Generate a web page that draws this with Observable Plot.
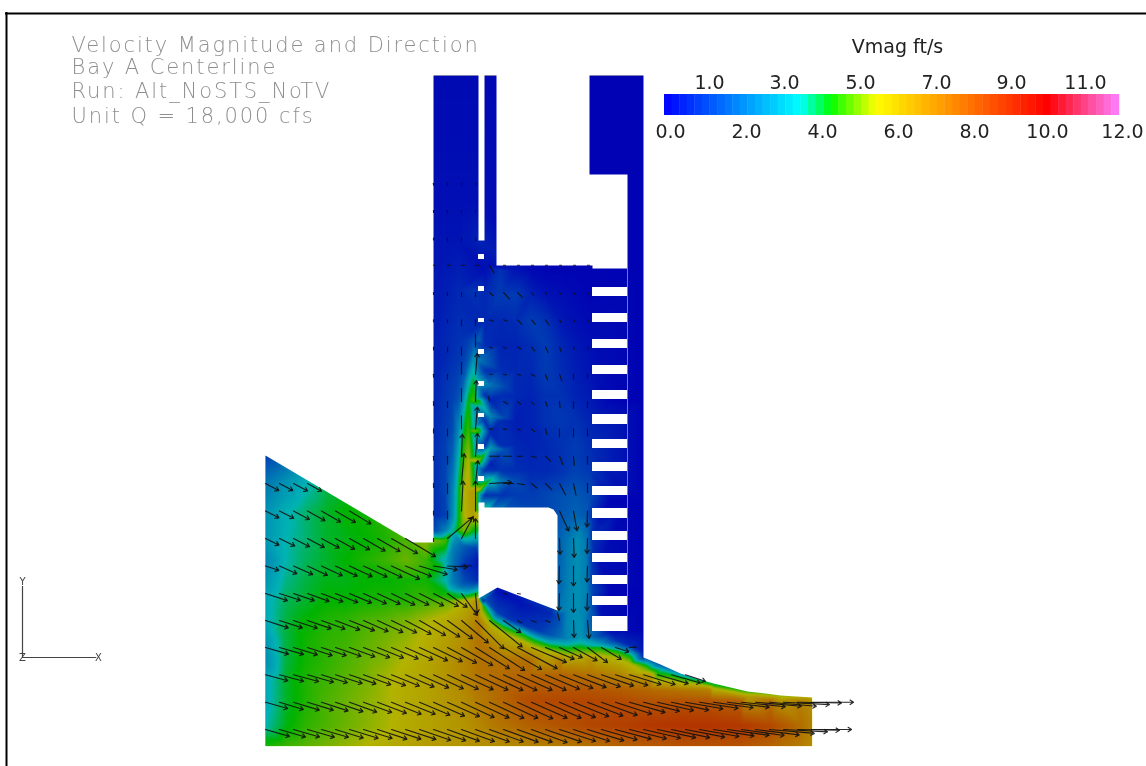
<!DOCTYPE html>
<html><head><meta charset="utf-8">
<style>
html,body{margin:0;padding:0;background:#fff;overflow:hidden}
.run-title text{letter-spacing:1.9px;font-weight:200}
#chart svg{filter:blur(0.45px)}
</style>
<script src="https://cdn.jsdelivr.net/npm/d3@7"></script>
<script src="https://cdn.jsdelivr.net/npm/@observablehq/plot@0.6"></script>
</head><body><div id="chart"></div>
<script>
// ---------- text ----------
const titleLines = ["Velocity Magnitude and Direction","Bay A Centerline","Run: Alt_NoSTS_NoTV","Unit Q = 18,000 cfs"];
const titleY = [51,73,97,122];
const legendTitle = "Vmag ft/s";
const ticksUpper = ["1.0","3.0","5.0","7.0","9.0","11.0"];
const ticksUpperX = [709,784,860,936,1011,1085];
const ticksLower = ["0.0","2.0","4.0","6.0","8.0","10.0","12.0"];
const ticksLowerX = [670,746,822,898,974,1047,1122];

// ---------- colour ramp (Vmag, ft/s) ----------
const rampStops = [0,3.6,4.4,5.6,10.1,12];
const rampColors = ["#0000ff","#00ffff","#00ff00","#ffff00","#ff0000","#ff80ff"];

// ---------- geometry, model-view units ----------
const domainOutline = [[433,75],[478,75],[478,240],[484,240],[484,75],[496,75],[496,265],[592,265],[592,268],[627,268],[627,174],[589,174],[589,75],[643,75],[643,657],[660,664],[680,673],[696,678],[713,683],[730,687],[747,691],[765,693],[780,695],[796,696],[812,697],[812,746],[265,746],[265,455],[412,542],[433,542],[433,75]];
const hullHole = [[478,502],[484,502],[484,507],[548,507],[553,509],[557,515],[557,610],[497,587],[478,598]];
const barTop = [287,313,339,365,390,414,439,462,486,508,531,553,575,596,616];
const barBottom = [296,322,348,374,399,424,448,471,495,518,540,562,584,605,631];
const slotTop = [254,286,318,349,381,413,444,476];
const slotBottom = [259,291,322,354,386,417,449,481];

// ---------- Vmag samples ----------
const resX = [265,285,305,325,345,365,385,405,425,445,465,478];
const resY = [455,480,510,540,560,580,600,620,640,660,680,700,725,746];
const resV = [
[1.3,1.9,2.6,3.3,3.9,4.3,4.6,4.9],
[2.3,2.9,3.5,4,4.3,4.5,4.7,4.9],
[2.9,3.5,3.9,4.2,4.4,4.5,4.7,4.9],
[3,3.6,3.9,4.2,4.3,4.4,4.6,4.9,5.4,4.9,3.4,3],
[2.7,3.6,4,4.2,4.4,4.6,4.8,5.1,4.8,3.4,1.2,.5],
[3,3.8,4.1,4.3,4.3,4.4,4.4,4.5,4.5,3.6,1.4,.9],
[3.4,4,4.2,4.4,4.4,4.5,4.6,4.6,4.8,5,5.7,6.5],
[3.4,4.1,4.4,4.6,4.7,4.9,5,5.2,5.5,5.8,6.3,7],
[3,4.1,4.5,4.7,4.8,5,5.2,5.4,5.7,6.1,6.6,7.2],
[2.8,4.1,4.5,4.7,4.9,5.1,5.3,5.6,5.9,6.3,6.8,7.2],
[3.4,4.2,4.6,4.8,5,5.2,5.5,5.8,6,6.4,6.8,7.2],
[3.4,4.2,4.6,4.9,5.1,5.3,5.5,5.8,6,6.3,6.6,7],
[3.6,4.3,4.7,4.9,5.1,5.3,5.5,5.8,6,6.2,6.4,6.7],
[4.6,4.8,5,5.2,5.4,5.6,5.8,6,6.2,6.3,6.4,6.5]];

const exitX = [500,530,560,590,620,650,680,710,740,770,800,812];
const exitRows = [
[660,[7.2,7.3,7,6.5]],
[675,[7.4,7.6,7.6,7.3,6.8,6.2]],
[690,[7.5,7.9,8,8,7.8,7.5,7.2,6.9]],
[700,[7.5,8.2,8.3,8.3,8.2,8,8,7.9,7.6,7.2,6.8,6.4]],
[725,[7.2,7.7,8,8.3,8.5,8.7,8.8,8.8,8.7,8.3,7.4,6.8]],
[746,[6.6,6.8,7,7.3,7.6,7.8,8,8,8,7.6,7,6.6]]];

const columnX = [433,445,452,458,463,468,473,478];
const columnRows = [
[75,[.2,.2,.2,.2,.2,.2,.2,.2]],
[200,[.3,.3,.3,.3,.3,.3,.3,.3]],
[240,[.4,.4,.4,.4,.5,.5,.6,.7]],
[290,[.5,.6,.7,.8,.9,1,1,1.1]],
[340,[.6,.8,.9,1,1.1,1.3,1.6,2]],
[360,[.6,.8,1,1.1,1.3,1.8,3,2.4]],
[380,[.7,1,1.2,1.4,1.9,3.4,4.2,3.5]],
[400,[.7,1.1,1.3,1.7,3,4.4,4.9,4.5]],
[430,[.8,1.2,1.5,2.8,4.2,4.8,5.2,4.8]],
[460,[.9,1.3,2,3.6,5,5.6,5.8,5.4]],
[490,[.9,1.4,2.6,4.2,5.5,6,6.3,5.8]],
[515,[.9,1.3,2.8,4.3,5.5,5.9,6.2,5.8]],
[530,[1.4,2.6,3.7,4.6,5.2,5,4.4,4.2]]];

const chamberX = [484,500,515,530,545,560,575,590];
const chamberRows = [
[270,[.3,1,.4,.2,.1,.1,.1,.1]],
[295,[.8,1.2,1.2,.7,.4,.3,.2,.1]],
[320,[.8,.8,.9,1.2,1,.5,.3,.2]],
[345,[.9,.7,.7,.9,1.2,.8,.5,.3]],
[370,[1,.9,.8,.8,1.2,.9,.6,.4]],
[395,[1,.9,.8,.7,1,1,.7,.5]],
[420,[1,.9,.6,.7,1,1.1,1,.7]],
[445,[1,.9,.8,.7,.8,1,1.2,.9]],
[470,[1,1,.9,.8,.8,1,1.3,1.1]],
[495,[1,1,1.2,1.2,1.4,1.6,1.8,1.5]]];

const spotSamples = [
[490,385,2.3],[505,386,1.4],[490,416,2.7],[505,418,1.4],[490,447,3.1],[505,449,1.6],[490,479,4],[500,480,2.5],[515,480,1.5],
[490,400,.7],[490,432,.7],[490,463,.7],
[440,565,4.3],[447,565,3.3],[455,565,2],[460,565,1.2],[465,565,.9],[478,565,.5],
[452,548,2.6],[462,545,2],[475,548,1.2],[452,582,2.6],[462,585,2],[475,583,1.5],
[445,592,4.4],[465,594,3.8],[478,592,4.2],
[490,70,.15],[490,265,.35],
[482,600,.8],[497,590,.3],[520,603,.4],[550,613,.8],[557,617,1.4]];

const laneSamples = [
[557,515,1.6],[565,515,1.8],[575,515,2],[585,515,1.8],[592,515,1],
[559,540,2],[567,540,2.4],[577,540,2.9],[586,540,2.4],[592,540,1],
[559,565,2],[567,565,2.5],[577,565,2.9],[586,565,2.5],[592,565,1.1],
[559,590,2.1],[567,590,2.6],[577,590,2.9],[586,590,2.6],[592,590,1.4],
[559,610,2.4],[567,610,2.7],[577,610,2.9],[586,610,2.5],[592,610,1.6],
[600,515,.3],[600,565,.3],[600,610,.3]];

const wallSamples = [
[265,75,.2],[812,75,.1],[812,455,.1],[700,600,.1],[589,75,.05],[643,75,.05],[589,174,.05],[615,174,.05],[627,174,.05],[643,174,.05],
[610,268,.08],[627,268,.05],[643,268,.05],[610,400,.1],[627,400,.05],[643,400,.05],[610,500,.1],[627,500,.05],[643,500,.05],
[610,590,.1],[627,590,.05],[643,590,.05],[627,631,.2],[643,631,.1],[610,631,.3]];

const edgeSamples = [
[486,600,1.5],[497,612,1.2],[510,619,1],[525,625,1],[540,631,1.2],[553,635,1.8],[565,638,2.6],[580,637,3],[600,636,1.5],[617,640,.9],[630,645,.8],[642,652,.6],
[484,603,3],[494,617,3],[507,624,3.2],[522,630,3.2],[537,637,3.2],[551,642,3.4],[565,644,3.6],[580,643,3.8],[600,643,3],[617,647,2.8],[630,651,2.8],[644,658,2.2],
[483,606,4.6],[492,620,4.6],[505,628,4.6],[520,634,4.6],[535,641,4.5],[550,646,4.5],[565,649,4.6],[580,648,4.6],[600,648,4.5],[617,651,4.5],[630,656,4.4],[645,664,4.2],
[490,627,5.9],[503,634,5.8],[518,640,5.8],[533,647,5.8],[548,652,5.7],[565,656,5.7],[580,655,5.7],[600,655,5.6],[617,658,5.6],[630,663,5.5],[648,670,5.2],
[643,657,1],[660,663,1.5],[680,672,2.6],[713,682,3.8],[747,690,4.5],[780,694,5],[812,696,5.6],
[660,669,3.6],[680,678,4.6],[713,688,5.6],[747,696,6.2],[780,700,6.3]];

// ---------- arrows: grid columns and, per row, length and turn below horizontal ----------
const arrowColX0 = [265,279,293,307,321,335,349,363,377,391,405,419,433,447,461,475,489,503,517,531,545,559,573,587,601,615,629,643,657,671,685,699,713,727,741,755,769,783,797,811];
const lowerRows = [
[483,[15,15,16,16],[28,28,28,29]],
[510.5,[15,16,18,20,22,23,25],[27,27,28,29,30,30,31]],
[538,[15,17,18,19,20,22,23,25,26,30,35],[26,26,27,28,28,29,29,30,30,30,31]],
[565.5,[14,19,21,22,23,24,25,26,27,31,28,29,24,20,10],[18,24,24,25,25,25,25,25,25,25,22,17,9,3,0]],
[593,[23,22,22,23,23,24,24,25,25,26,26,27,28,24,27,20],[18,18,19,20,21,22,23,24,25,26,26,27,27,35,54,85]],
[620,[24,24,25,25,25,26,27,27,28,28,29,30,31,31,35,40,42,21,5,5,5,8,17,18],[18,18,18,19,20,21,22,24,25,26,28,30,32,36,40,45,39,35,30,20,20,-105,88,85]],
[647,[24,25,25,26,26,27,27,28,28,29,30,31,32,33,36,40,42,44,45,38,31,25,27,25,23,14,7],[16,16,17,18,18,19,20,21,22,23,24,25,26,28,30,32,33,30,28,23,22,24,29,37,31,18,-3]],
[674.3,[23,25,26,27,27,28,28,29,30,30,31,32,33,34,35,36,37,37,38,38,37,36,35,35,34,34,33,33,32,30,21],[15,15,15,16,17,18,19,20,21,22,23,24,25,25,25,25,25,25,24,24,23,22,21,20,19,18,17,17,16,16,18]],
[701.7,[23,25,27,27,28,29,29,30,31,32,32,33,34,35,36,37,38,38,39,39,39,39,38,38,38,38,37,37,37,38,38,39,40,42,44,46,47,46,44,42],[16,17,17,17,18,19,20,20,21,22,22,23,24,24,25,25,25,25,25,24,24,23,22,21,20,18,16,14,13,12,10,9,8,7,6,5,5,3,1,0]],
[729,[25,27,27,28,28,29,30,30,31,31,32,33,34,34,35,36,36,37,37,38,38,38,38,38,37,37,38,38,39,39,40,40,41,42,43,44,45,44,42,40],[16,16,16,16,16,17,17,17,18,18,18,19,19,20,20,20,20,20,20,20,19,18,18,17,16,15,14,13,12,12,11,10,9,8,8,7,5,3,1,0]]];

// chamber rows begin at grid column 12 (x = 433)
const upperRows = [
[182.7,[2,2,2,2],[90,90,90,90]],
[210,[2,2,2,2],[90,90,90,90]],
[237.5,[2,3,3,3],[90,90,90,90]],
[264.7,[2,3,3,4,9,2,2,2,2,2,2,2],[0,0,0,0,60,0,0,0,0,0,0,0]],
[292,[2,3,4,4,5,9,7,3,2,2,2,2],[90,90,90,90,40,48,45,50,50,50,50,50]],
[319.3,[2,3,6,6,4,4,6,6,6,3,2,2],[90,90,90,90,20,20,45,50,55,60,60,60]],
[346.5,[3,5,8,13,3,3,4,5,6,5,2,2],[90,90,90,-90,20,30,30,50,65,70,70,70]],
[373.8,[3,5,12,21,3,3,3,4,6,7,5,4],[90,90,-90,-85,0,10,20,30,70,70,90,90]],
[401,[4,6,13,21,5,5,4,4,5,6,7,6],[90,90,-90,-88,-100,30,40,50,70,85,90,90]],
[428.4,[4,7,13,22,3,3,3,4,6,8,8,7],[90,90,-90,-85,0,10,20,40,75,90,90,90]],
[455.7,[4,8,22,23,10,8,5,5,7,9,9,8],[90,90,-88,-85,0,0,0,15,45,68,85,90]],
[483,[4,10,30,23,22,10,7,7,9,13,12,9],[90,90,-85,-84,-3,0,10,40,45,62,78,90]],
[510.5,[4,8,30,30,0,0,0,0,0,22,20,16],[90,90,-87,-90,0,0,0,0,0,65,80,92]],
[538,[3,32,25,20,0,0,0,0,0,16,19,15],[90,-40,-62,-90,0,0,0,0,0,88,88,92]],
[565.5,[0,0,0,0,0,0,0,0,0,18,20,16],[0,0,0,0,0,0,0,0,0,92,90,92]],
[593,[0,0,0,0,0,4,3,0,0,17,19,17],[0,0,0,0,0,10,10,0,0,92,90,92]]];

// ---------- tables built from the arrays ----------
const grid = (xs, rows) => rows.flatMap(([y, vals]) => vals.map((v, i) => ({x: xs[i], y, v})));
const triples = t => t.map(([x, y, v]) => ({x, y, v}));
const samples = [
  ...resY.flatMap((y, r) => resV[r].map((v, i) => ({x: resX[i], y, v}))),
  ...grid(exitX, exitRows), ...grid(columnX, columnRows), ...grid(chamberX, chamberRows),
  ...triples(spotSamples), ...triples(laneSamples), ...triples(wallSamples), ...triples(edgeSamples)];

const arrows = [
  ...lowerRows.flatMap(([y, L, A]) => L.map((len, i) => ({x: arrowColX0[i], y, len, ang: A[i]}))),
  ...upperRows.flatMap(([y, L, A]) => L.map((len, i) => ({x: arrowColX0[12 + i], y, len, ang: A[i]})))
].filter(d => d.len > 0);

const pts = (arr, id) => arr.map(([x, y]) => ({x, y, id}));
const maskPath = pts([[0,0],[0,766],[1146,766],[1146,0],[0,0],...domainOutline,[0,0]], "mask");
const bars = barTop.map((t, i) => ({x1: 592, x2: 627, y1: t, y2: barBottom[i]}));
const slots = slotTop.map((t, i) => ({x1: 478, x2: 484, y1: t, y2: slotBottom[i]}));
const bands = d3.range(0, 60).map(i => ({v: i / 5}));
const box = [{x1: 265, x2: 812, y1: 75, y2: 746}];

const thinArrow = {draw(ctx, l) {
  ctx.moveTo(0, 0); ctx.lineTo(0, -l);
  if (l >= 14) {
    ctx.moveTo(-2.2, -l + 3.4); ctx.lineTo(0, -l); ctx.lineTo(2.2, -l + 3.4);
  }
}};

const chart = Plot.plot({
  width: 1146, height: 766, margin: 0,
  style: {background: "#fff", overflow: "hidden"},
  x: {domain: [0, 1146], range: [0, 1146], axis: null},
  y: {domain: [0, 766], range: [0, 766], axis: null},
  color: {type: "linear", domain: rampStops, range: rampColors},
  length: {type: "identity"},
  marks: [
    Plot.rect(box, {x1: "x1", x2: "x2", y1: "y1", y2: "y2", fill: "#000"}),
    Plot.raster(samples, {x: "x", y: "y", fill: "v", interpolate: "barycentric", pixelSize: 1,
      x1: 265, x2: 812, y1: 75, y2: 746, opacity: 0.7}),
    Plot.line(maskPath, {x: "x", y: "y", fill: "#fff", stroke: "none"}),
    Plot.line(pts(hullHole, "hole"), {x: "x", y: "y", fill: "#fff", stroke: "none"}),
    Plot.rect(bars, {x1: "x1", x2: "x2", y1: "y1", y2: "y2", fill: "#fff"}),
    Plot.rect(slots, {x1: "x1", x2: "x2", y1: "y1", y2: "y2", fill: "#fff"}),
    Plot.ruleX([627], {y1: 268, y2: 631, stroke: "#8d96d8", strokeWidth: 0.8}),
    Plot.vector(arrows, {x: "x", y: "y", length: "len", rotate: d => 90 + d.ang, anchor: "start",
      shape: thinArrow, stroke: "#111", strokeWidth: 1.15, strokeOpacity: 0.9}),

    // colour bar and labels
    Plot.rect(bands, {x1: d => 664 + d.v * 37.9, x2: d => 664 + (d.v + 0.2) * 37.9 + 0.4, y1: () => 94, y2: () => 115, fill: d => d.v + 0.1}),
    Plot.text([legendTitle], {x: () => 897, y: () => 52, text: d => d, fontFamily: "DejaVu Sans", fontSize: 19, fill: "#222", lineAnchor: "bottom", textAnchor: "middle"}),
    Plot.text(ticksUpper, {x: (d, i) => ticksUpperX[i], y: () => 88, text: d => d, fontFamily: "DejaVu Sans", fontSize: 19, fill: "#222", lineAnchor: "bottom", textAnchor: "middle"}),
    Plot.text(ticksLower, {x: (d, i) => ticksLowerX[i], y: () => 137, text: d => d, fontFamily: "DejaVu Sans", fontSize: 19, fill: "#222", lineAnchor: "bottom", textAnchor: "middle"}),

    // run description
    Plot.text(titleLines, {x: () => 71, y: (d, i) => titleY[i], text: d => d, fontFamily: "DejaVu Sans", fontSize: 21, fill: "#8f8f8f", textAnchor: "start", lineAnchor: "bottom", className: "run-title"}),

    // axis triad
    Plot.line([{x: 22, y: 581}, {x: 22, y: 657}, {x: 97, y: 657}], {x: "x", y: "y", stroke: "#444", strokeWidth: 1.2}),
    Plot.text(["Y"], {x: () => 22, y: () => 581, text: d => d, fontFamily: "DejaVu Sans", fontSize: 10, fill: "#444", stroke: "#fff", strokeWidth: 2}),
    Plot.text(["Z"], {x: () => 22, y: () => 657, text: d => d, fontFamily: "DejaVu Sans", fontSize: 10, fill: "#444"}),
    Plot.text(["X"], {x: () => 98, y: () => 657, text: d => d, fontFamily: "DejaVu Sans", fontSize: 10, fill: "#444", stroke: "#fff", strokeWidth: 2}),

    // page frame
    Plot.ruleY([13], {x1: 5, x2: 1146, stroke: "#000", strokeWidth: 2}),
    Plot.ruleX([6], {y1: 12, y2: 766, stroke: "#000", strokeWidth: 2})
  ]
});
document.getElementById("chart").append(chart);
</script></body></html>
